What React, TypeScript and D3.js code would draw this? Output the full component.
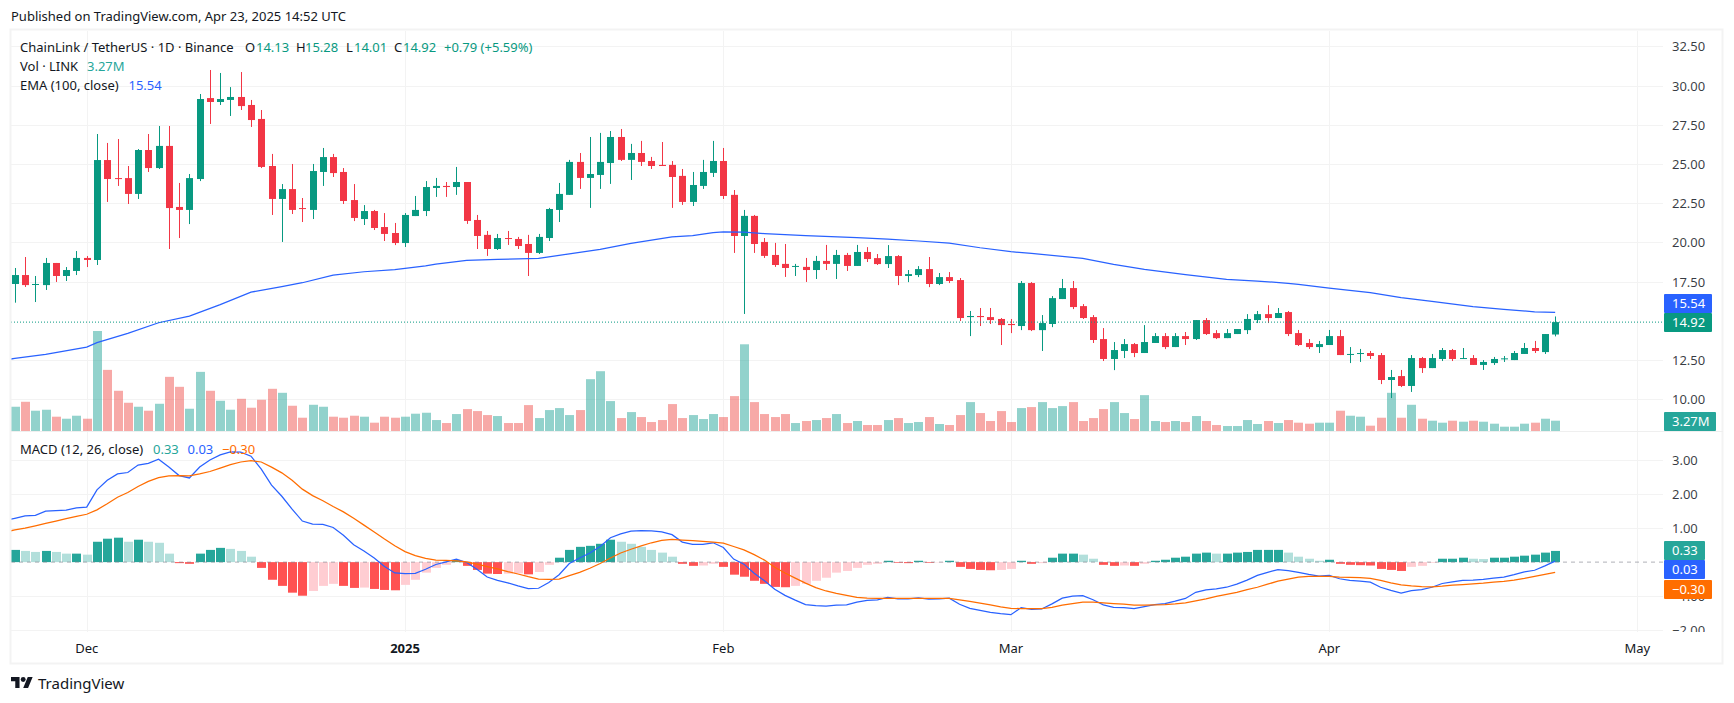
import React from 'react';
import * as d3 from 'd3';

// daily candles from 2024-11-24 to 2025-04-23, grouped by month
const opens = [
  17.35, 17.92, 17.30, 17.28, 18.69, 17.86, 18.18,
  19.01, 18.88, 25.25, 24.10, 24.10, 23.09, 25.89, 24.74, 26.15, 22.26, 22.07, 24.04, 29.20, 28.95, 29.08, 29.27, 28.76, 27.87, 24.87, 22.77, 23.40, 22.19, 22.07, 24.49, 25.44, 24.49, 22.70, 21.49, 22.00, 20.98, 20.60,
  19.96, 21.68, 22.00, 23.47, 23.60, 23.53, 23.85, 21.43, 20.48, 19.58, 20.28, 20.22, 19.90, 19.33, 20.28, 22.07, 23.03, 25.13, 24.11, 24.30, 25.06, 26.72, 25.26, 25.70, 25.19, 24.94, 24.94, 24.24, 22.58, 23.60, 24.43,
  25.19, 23.03, 20.41, 21.69, 20.03, 19.20, 18.63, 18.46, 18.44, 18.24, 18.82, 18.63, 19.20, 18.50, 19.39, 19.00, 18.62, 19.13, 17.86, 17.92, 18.30, 17.35, 17.79, 17.60, 15.24, 15.31, 15.24, 15.12,
  14.80, 14.67, 17.41, 14.41, 14.80, 16.39, 17.09, 15.94, 15.24, 13.84, 12.57, 13.08, 13.52, 12.95, 13.59, 14.03, 13.33, 14.03, 13.84, 15.05, 14.22, 13.90, 14.16, 14.41, 15.05, 15.43, 15.18, 15.56, 14.22, 13.59, 13.33,
  13.46, 14.03, 12.85, 12.91, 12.95, 12.82, 11.23, 11.48, 10.85, 12.63, 11.99, 12.57, 13.14, 12.57, 12.63, 12.19, 12.31, 12.55, 12.50, 12.89, 13.27, 13.01, 14.13,
];
const highs = [
  18.37, 19.07, 17.86, 19.01, 18.69, 18.43, 19.45,
  19.13, 26.91, 26.34, 26.59, 24.87, 25.95, 26.91, 27.42, 27.42, 23.79, 24.36, 29.46, 30.99, 30.80, 29.90, 30.86, 29.08, 28.44, 25.64, 23.72, 25.00, 22.83, 25.00, 26.02, 25.64, 24.74, 23.72, 22.38, 22.07, 21.87, 21.24,
  21.87, 22.96, 23.91, 24.11, 23.85, 24.81, 23.85, 21.75, 20.73, 20.54, 20.73, 20.35, 20.48, 20.54, 22.20, 23.79, 25.26, 25.70, 26.72, 26.98, 27.10, 27.23, 26.28, 26.47, 25.45, 26.40, 25.19, 24.68, 24.49, 25.26, 26.47,
  26.02, 23.34, 22.07, 21.75, 20.28, 19.97, 19.90, 18.63, 19.01, 19.14, 19.84, 19.52, 19.33, 19.84, 19.70, 19.26, 19.83, 19.19, 18.24, 18.49, 19.07, 18.05, 18.11, 17.73, 15.63, 15.82, 15.82, 15.18,
  15.12, 17.54, 17.47, 15.37, 16.58, 17.67, 17.54, 16.07, 15.37, 14.54, 13.65, 13.84, 13.59, 14.73, 14.22, 14.22, 14.22, 14.29, 15.05, 15.18, 14.41, 14.48, 14.48, 15.43, 15.63, 16.00, 15.82, 15.63, 14.42, 13.84, 13.72,
  14.42, 14.42, 13.33, 13.21, 13.08, 12.95, 11.87, 11.87, 12.82, 12.70, 12.89, 13.27, 13.21, 13.27, 12.82, 12.50, 12.70, 12.76, 13.08, 13.59, 13.72, 14.16, 15.28,
];
const lows = [
  16.16, 17.16, 16.20, 16.97, 17.48, 17.54, 17.92,
  18.43, 18.56, 22.58, 23.60, 22.45, 22.77, 24.49, 24.68, 19.58, 20.28, 21.17, 23.91, 27.55, 28.76, 28.06, 28.44, 27.36, 24.74, 21.75, 20.03, 21.81, 21.30, 21.49, 23.60, 24.17, 22.45, 21.36, 21.11, 20.79, 20.09, 19.83,
  19.71, 21.68, 21.68, 22.90, 22.90, 23.03, 21.18, 19.58, 19.14, 19.52, 19.84, 19.58, 17.86, 19.26, 20.09, 21.30, 23.03, 23.41, 22.20, 23.41, 23.73, 25.19, 23.98, 24.87, 24.68, 24.87, 22.20, 22.39, 22.32, 23.41, 24.17,
  22.77, 19.33, 15.44, 19.33, 19.01, 18.44, 17.80, 17.86, 17.48, 17.67, 18.24, 17.67, 18.18, 18.50, 18.75, 18.56, 18.37, 17.28, 17.47, 17.79, 17.15, 17.28, 17.41, 14.99, 14.03, 14.67, 14.80, 13.46,
  14.22, 14.41, 14.35, 13.08, 14.60, 16.39, 15.75, 15.12, 13.59, 12.44, 11.86, 12.63, 12.69, 12.95, 13.59, 13.20, 13.33, 13.46, 13.78, 14.10, 13.84, 13.90, 14.16, 14.16, 14.86, 14.86, 15.18, 14.03, 13.40, 13.21, 12.95,
  13.46, 12.82, 12.31, 12.38, 12.57, 10.97, 10.08, 10.78, 10.47, 11.68, 11.99, 12.44, 12.44, 12.57, 12.19, 11.87, 12.19, 12.38, 12.50, 12.89, 12.95, 12.89, 14.01,
];
const closes = [
  17.92, 17.28, 17.35, 18.69, 17.86, 18.24, 19.01,
  18.88, 25.25, 24.04, 24.04, 23.09, 25.89, 24.74, 26.15, 22.19, 22.07, 24.10, 29.14, 28.95, 29.14, 29.27, 28.69, 27.80, 24.81, 22.77, 23.40, 22.07, 22.13, 24.55, 25.44, 24.42, 22.64, 21.56, 22.00, 20.92, 20.54, 19.96,
  21.75, 22.07, 23.53, 23.60, 23.53, 23.85, 21.37, 20.41, 19.58, 20.28, 20.22, 19.77, 19.33, 20.35, 22.13, 23.09, 25.13, 24.11, 24.36, 25.13, 26.72, 25.26, 25.70, 25.13, 24.87, 24.87, 24.17, 22.58, 23.66, 24.49, 25.19,
  22.96, 20.41, 21.69, 19.90, 19.14, 18.56, 18.37, 18.50, 18.24, 18.82, 18.63, 19.20, 18.50, 19.39, 18.94, 18.62, 19.13, 17.86, 17.98, 18.30, 17.35, 17.79, 17.54, 15.18, 15.31, 15.24, 15.05, 14.73,
  14.73, 17.41, 14.41, 14.86, 16.45, 17.09, 15.88, 15.18, 13.78, 12.57, 13.14, 13.52, 12.95, 13.65, 14.03, 13.33, 14.03, 13.84, 15.05, 14.16, 13.90, 14.22, 14.48, 15.12, 15.43, 15.18, 15.50, 14.16, 13.46, 13.33, 13.52,
  14.03, 12.82, 12.89, 12.95, 12.76, 11.23, 11.42, 10.85, 12.63, 11.99, 12.63, 13.14, 12.57, 12.63, 12.19, 12.38, 12.57, 12.61, 12.95, 13.27, 13.08, 14.16, 14.92,
];
// volume in millions of LINK
const volumes = [
  7.70, 9.28, 6.44, 6.75, 4.54, 3.90, 4.85,
  3.90, 31.76, 19.41, 12.77, 8.97, 7.70, 6.44, 8.65, 17.20, 14.03, 7.07, 18.78, 12.77, 9.60, 6.75, 10.23, 7.39, 9.92, 13.40, 12.13, 8.02, 4.22, 8.33, 7.70, 4.54, 4.22, 4.85, 4.54, 2.64, 4.54, 4.22,
  4.54, 5.49, 5.80, 3.48, 2.53, 5.38, 6.96, 6.33, 5.06, 4.75, 2.53, 2.53, 8.23, 4.11, 6.65, 7.28, 5.06, 6.65, 16.46, 18.99, 9.50, 4.11, 6.01, 4.43, 2.85, 3.48, 8.55, 4.11, 5.06, 3.80, 5.38,
  4.43, 11.08, 27.54, 9.18, 5.38, 4.43, 5.38, 2.53, 3.17, 3.48, 4.11, 5.38, 2.53, 3.17, 1.90, 1.90, 3.48, 4.11, 2.53, 2.85, 4.43, 2.22, 1.90, 5.06, 9.18, 5.70, 3.17, 6.33,
  2.85, 7.28, 7.60, 9.18, 7.28, 7.91, 9.18, 3.17, 4.11, 6.96, 9.18, 5.70, 3.80, 11.39, 3.17, 2.85, 3.17, 2.85, 4.75, 3.17, 1.90, 1.58, 1.58, 3.48, 2.22, 3.17, 2.53, 3.48, 2.64, 2.32, 2.64,
  2.64, 6.44, 4.85, 4.54, 1.69, 4.22, 12.13, 4.22, 8.33, 3.90, 3.27, 2.64, 3.27, 2.95, 3.27, 2.95, 2.32, 1.37, 1.37, 2.32, 2.64, 3.90, 3.27,
];
// macd and signal start one day earlier, the lines run in from the left edge
const macdLine = [
  1.22, 1.29, 1.36, 1.38, 1.50, 1.52, 1.53, 1.60,
  1.62, 2.13, 2.41, 2.60, 2.64, 2.86, 2.91, 3.03, 2.80, 2.55, 2.48, 2.80, 3.01, 3.16, 3.25, 3.24, 3.12, 2.74, 2.27, 1.94, 1.56, 1.21, 1.12, 1.11, 1.02, 0.79, 0.51, 0.33, 0.12, -0.13, -0.32,
  -0.34, -0.33, -0.21, -0.07, 0.01, 0.09, -0.01, -0.21, -0.44, -0.54, -0.61, -0.70, -0.78, -0.77, -0.60, -0.37, -0.04, 0.12, 0.27, 0.46, 0.72, 0.83, 0.91, 0.93, 0.92, 0.89, 0.81, 0.59, 0.52, 0.52, 0.57,
  0.43, 0.09, -0.06, -0.33, -0.55, -0.80, -0.98, -1.12, -1.25, -1.28, -1.30, -1.27, -1.26, -1.18, -1.13, -1.11, -1.04, -1.08, -1.08, -1.05, -1.09, -1.08, -1.06, -1.24, -1.36, -1.42, -1.48, -1.52,
  -1.55, -1.34, -1.39, -1.38, -1.23, -1.06, -1.00, -0.99, -1.11, -1.26, -1.33, -1.34, -1.37, -1.31, -1.25, -1.22, -1.15, -1.07, -0.89, -0.82, -0.79, -0.74, -0.65, -0.53, -0.39, -0.30, -0.22, -0.25, -0.30, -0.36, -0.41,
  -0.39, -0.49, -0.54, -0.56, -0.59, -0.74, -0.83, -0.91, -0.84, -0.81, -0.74, -0.63, -0.58, -0.54, -0.53, -0.51, -0.47, -0.44, -0.37, -0.29, -0.24, -0.11, 0.03,
];
const signalLine = [
  0.88, 0.95, 1.00, 1.07, 1.14, 1.21, 1.28, 1.35,
  1.41, 1.54, 1.72, 1.91, 2.05, 2.23, 2.38, 2.49, 2.54, 2.55, 2.54, 2.60, 2.67, 2.77, 2.87, 2.95, 2.99, 2.95, 2.80, 2.63, 2.41, 2.15, 1.96, 1.81, 1.64, 1.48, 1.29, 1.09, 0.89, 0.68, 0.48,
  0.31, 0.19, 0.11, 0.06, 0.05, 0.04, 0.01, -0.06, -0.13, -0.20, -0.28, -0.35, -0.43, -0.50, -0.51, -0.50, -0.40, -0.30, -0.18, -0.04, 0.12, 0.27, 0.38, 0.48, 0.57, 0.64, 0.67, 0.65, 0.63, 0.61, 0.59,
  0.56, 0.46, 0.36, 0.22, 0.06, -0.15, -0.32, -0.47, -0.62, -0.75, -0.85, -0.92, -0.98, -1.04, -1.06, -1.07, -1.07, -1.07, -1.07, -1.07, -1.07, -1.07, -1.07, -1.11, -1.16, -1.21, -1.26, -1.32,
  -1.36, -1.37, -1.37, -1.37, -1.33, -1.27, -1.22, -1.18, -1.18, -1.20, -1.22, -1.24, -1.27, -1.27, -1.26, -1.25, -1.23, -1.20, -1.14, -1.08, -1.01, -0.95, -0.89, -0.81, -0.74, -0.65, -0.56, -0.50, -0.44, -0.42, -0.42,
  -0.42, -0.44, -0.45, -0.46, -0.48, -0.54, -0.61, -0.67, -0.70, -0.72, -0.73, -0.71, -0.68, -0.66, -0.64, -0.62, -0.59, -0.57, -0.53, -0.48, -0.42, -0.36, -0.30,
];
const histogram = [
  0.36, 0.33, 0.30, 0.33, 0.30, 0.25, 0.25,
  0.22, 0.60, 0.69, 0.72, 0.60, 0.66, 0.60, 0.57, 0.25, -0.03, -0.05, 0.25, 0.36, 0.42, 0.39, 0.33, 0.16, -0.17, -0.52, -0.70, -0.90, -0.99, -0.85, -0.70, -0.64, -0.70, -0.76, -0.75, -0.79, -0.82, -0.83,
  -0.67, -0.52, -0.31, -0.17, -0.08, 0.06, -0.11, -0.23, -0.34, -0.35, -0.34, -0.33, -0.36, -0.29, -0.08, 0.13, 0.36, 0.45, 0.48, 0.54, 0.66, 0.60, 0.54, 0.45, 0.36, 0.28, 0.16, -0.05, -0.11, -0.10, -0.05,
  -0.14, -0.37, -0.43, -0.55, -0.64, -0.73, -0.74, -0.70, -0.64, -0.55, -0.46, -0.31, -0.26, -0.17, -0.08, -0.05, 0.04, -0.02, -0.03, 0.04, -0.02, -0.01, 0.04, -0.14, -0.20, -0.23, -0.24, -0.23,
  -0.20, 0.04, -0.05, -0.03, 0.13, 0.25, 0.25, 0.22, 0.10, -0.08, -0.11, -0.10, -0.11, -0.05, 0.04, 0.07, 0.13, 0.16, 0.25, 0.28, 0.25, 0.25, 0.28, 0.30, 0.36, 0.36, 0.36, 0.28, 0.16, 0.10, 0.04,
  0.07, -0.05, -0.08, -0.09, -0.10, -0.20, -0.23, -0.26, -0.14, -0.11, -0.02, 0.10, 0.10, 0.13, 0.10, 0.09, 0.13, 0.13, 0.16, 0.19, 0.22, 0.28, 0.33,
];
// EMA line, read at its visible bends
const emaDates = [
  '2024-11-23', '2024-11-24', '2024-11-27', '2024-12-01', '2024-12-02', '2024-12-05', '2024-12-08', '2024-12-11', '2024-12-14', '2024-12-17', '2024-12-20', '2024-12-22', '2024-12-25', '2024-12-28', '2024-12-31',
  '2025-01-03', '2025-01-04', '2025-01-07', '2025-01-10', '2025-01-14', '2025-01-16', '2025-01-20', '2025-01-23', '2025-01-27', '2025-01-29', '2025-01-31',
  '2025-02-01', '2025-02-03', '2025-02-05', '2025-02-09', '2025-02-14', '2025-02-17', '2025-02-20', '2025-02-23', '2025-02-26',
  '2025-03-01', '2025-03-03', '2025-03-08', '2025-03-11', '2025-03-14', '2025-03-18', '2025-03-22', '2025-03-25', '2025-03-28', '2025-03-29',
  '2025-04-01', '2025-04-05', '2025-04-08', '2025-04-11', '2025-04-15', '2025-04-18', '2025-04-21', '2025-04-23',
];
const emaValues = [
  12.50, 12.61, 12.87, 13.33, 13.61, 14.20, 14.88, 15.30, 16.03, 16.83, 17.18, 17.43, 17.92, 18.13, 18.26,
  18.50, 18.61, 18.86, 18.92, 18.99, 19.18, 19.56, 19.94, 20.35, 20.43, 20.62,
  20.67, 20.65, 20.56, 20.43, 20.31, 20.21, 20.09, 19.96, 19.66,
  19.41, 19.30, 18.98, 18.60, 18.28, 17.94, 17.64, 17.54, 17.39, 17.33,
  17.09, 16.80, 16.48, 16.24, 15.90, 15.73, 15.58, 15.54,
];

const priceTicks = [32.5, 30, 27.5, 25, 22.5, 20, 17.5, 12.5, 10];
const macdTicks = [3, 2, 1, -1, -2];
const monthTicks = [
  { date: '2024-12-01', label: 'Dec' },
  { date: '2025-01-01', label: '2025', bold: true },
  { date: '2025-02-01', label: 'Feb' },
  { date: '2025-03-01', label: 'Mar' },
  { date: '2025-04-01', label: 'Apr' },
  { date: '2025-05-01', label: 'May' },
];

const FONT = "'Noto Sans', sans-serif";
const UP = '#089981';
const DOWN = '#F23645';
const BLUE = '#2962FF';
const ORANGE = '#FF6D00';
const TEAL = '#26A69A';
const GRID = '#F3F3F3';
const TEXT = '#131722';

const W = 1734;
const H = 703;
const paneLeft = 11;
const paneRight = 1663;
const paneTop = 31;
const paneMid = 431;
const paneBottom = 632;

const days = d3.utcDay.range(new Date(Date.UTC(2024, 10, 24)), new Date(Date.UTC(2025, 3, 24)));
const lineDays = d3.utcDay.range(new Date(Date.UTC(2024, 10, 23)), new Date(Date.UTC(2025, 3, 24)));
const day = (s: string) => new Date(s + 'T00:00:00Z');

const xScale = d3.scaleUtc().domain([day('2024-12-01'), day('2025-05-01')]).range([86.7, 1637.3]);
const yPrice = d3.scaleLinear().domain([10, 32.5]).range([399.3, 46.3]);
const yVolume = d3.scaleLinear().domain([0, 31.76]).range([431, 331]);
const yMacd = d3.scaleLinear().domain([-2, 3]).range([630, 460.3]);

const emaPath = d3.line<number>()
  .x((_, i) => xScale(day(emaDates[i])))
  .y((d) => yPrice(d))(emaValues) as string;
const macdPath = d3.line<number>()
  .x((_, i) => xScale(lineDays[i]))
  .y((d) => yMacd(d))(macdLine) as string;
const signalPath = d3.line<number>()
  .x((_, i) => xScale(lineDays[i]))
  .y((d) => yMacd(d))(signalLine) as string;

const histColor = (i: number) => {
  const v = histogram[i];
  const prev = i > 0 ? histogram[i - 1] : v;
  if (v >= 0) return v >= prev ? TEAL : '#B2DFDB';
  return v < prev || i === 0 ? '#FF5252' : '#FFCDD2';
};

const Badge = ({ y, x2, color, label }: { y: number; x2: number; color: string; label: string }) => (
  <g>
    <rect x={1664} y={y} width={x2 - 1664} height={19} fill={color} rx={1} />
    <text x={1672} y={y + 14} fill="#fff" fontSize={13}>{label}</text>
  </g>
);

export default function App() {
  return (
    <svg width={W} height={H} fontFamily={FONT} style={{ position: 'absolute', left: 0, top: 0, background: '#fff' }}>
      <defs>
        <clipPath id="mainClip">
          <rect x={paneLeft} y={paneTop} width={paneRight - paneLeft} height={paneMid - paneTop} />
        </clipPath>
        <clipPath id="macdClip">
          <rect x={paneLeft} y={paneMid} width={paneRight - paneLeft} height={paneBottom - paneMid} />
        </clipPath>
        <clipPath id="axisClip">
          <rect x={paneRight} y={paneMid} width={60} height={paneBottom - paneMid} />
        </clipPath>
      </defs>

      <text x={11} y={21} fontSize={13} fill={TEXT}>Published on TradingView.com, Apr 23, 2025 14:52 UTC</text>

      {/* grid */}
      <g stroke={GRID} strokeWidth={1}>
        {priceTicks.map((t) => (
          <line key={t} x1={paneLeft} x2={paneRight} y1={Math.round(yPrice(t)) + 0.5} y2={Math.round(yPrice(t)) + 0.5} />
        ))}
        {macdTicks.map((t) => (
          <line key={t} x1={paneLeft} x2={paneRight} y1={Math.round(yMacd(t)) + 0.5} y2={Math.round(yMacd(t)) + 0.5} />
        ))}
        {monthTicks.map((t) => {
          const x = Math.round(xScale(day(t.date))) + 0.5;
          return <line key={t.date} x1={x} x2={x} y1={paneTop} y2={paneBottom} />;
        })}
      </g>

      {/* price pane */}
      <g clipPath="url(#mainClip)">
        {volumes.map((v, i) => (
          <rect
            key={i}
            x={Math.round(xScale(days[i])) - 4}
            y={yVolume(v)}
            width={9}
            height={yVolume(0) - yVolume(v)}
            fill={closes[i] >= opens[i] ? '#26A69A' : '#EF5350'}
            fillOpacity={0.5}
          />
        ))}
        {closes.map((c, i) => {
          const cx = Math.round(xScale(days[i]));
          const color = c >= opens[i] ? UP : DOWN;
          const top = yPrice(Math.max(c, opens[i]));
          const bottom = yPrice(Math.min(c, opens[i]));
          return (
            <g key={i} fill={color}>
              <rect x={cx} y={yPrice(highs[i])} width={1} height={yPrice(lows[i]) - yPrice(highs[i])} />
              <rect x={cx - 3} y={top} width={7} height={Math.max(bottom - top, 1)} />
            </g>
          );
        })}
        <path d={emaPath} fill="none" stroke={BLUE} strokeWidth={1.25} />
        <line x1={paneLeft} x2={paneRight} y1={yPrice(14.92)} y2={yPrice(14.92)} stroke={UP} strokeDasharray="1 2" />
      </g>

      {/* macd pane */}
      <g clipPath="url(#macdClip)">
        {histogram.map((v, i) => (
          <rect
            key={i}
            x={Math.round(xScale(days[i])) - 4}
            y={Math.min(yMacd(v), yMacd(0))}
            width={9}
            height={Math.abs(yMacd(v) - yMacd(0))}
            fill={histColor(i)}
          />
        ))}
        <line x1={paneLeft} x2={paneRight} y1={yMacd(0)} y2={yMacd(0)} stroke="#787B86" strokeOpacity={0.6} strokeDasharray="4 4" />
        <path d={macdPath} fill="none" stroke={BLUE} strokeWidth={1.25} />
        <path d={signalPath} fill="none" stroke={ORANGE} strokeWidth={1.25} />
      </g>

      {/* frame and pane separator */}
      <rect x={10.5} y={29.5} width={1712} height={634} fill="none" stroke={GRID} strokeWidth={2} />
      <line x1={paneLeft} x2={1723} y1={paneMid + 0.5} y2={paneMid + 0.5} stroke="#EFEFEF" />

      {/* price axis */}
      <g fontSize={13} fill={TEXT} fillOpacity={0.85}>
        {priceTicks.map((t) => (
          <text key={t} x={1672} y={yPrice(t) + 5}>{d3.format('.2f')(t)}</text>
        ))}
      </g>
      <g fontSize={13} fill={TEXT} fillOpacity={0.85} clipPath="url(#axisClip)">
        {macdTicks.map((t) => (
          <text key={t} x={1672} y={yMacd(t) + 5}>{d3.format('.2f')(t).replace('-', '\u2212')}</text>
        ))}
      </g>

      {/* time axis */}
      <g fontSize={13} fill={TEXT} textAnchor="middle">
        {monthTicks.map((t) => (
          <text key={t.date} x={xScale(day(t.date))} y={653} fontWeight={t.bold ? 700 : 400}>{t.label}</text>
        ))}
      </g>

      {/* last value badges */}
      <Badge y={294} x2={1712} color={BLUE} label="15.54" />
      <Badge y={313} x2={1712} color={UP} label="14.92" />
      <Badge y={412} x2={1716} color={TEAL} label="3.27M" />
      <Badge y={541} x2={1705} color={TEAL} label="0.33" />
      <Badge y={560} x2={1705} color={BLUE} label="0.03" />
      <Badge y={580} x2={1712} color={ORANGE} label={'\u22120.30'} />

      {/* legends */}
      <g fontSize={13} fill={TEXT}>
        <text x={20} y={52}>ChainLink / TetherUS · 1D · Binance</text>
        <text x={245} y={52}>O</text>
        <text x={256} y={52} fill={UP}>14.13</text>
        <text x={296} y={52}>H</text>
        <text x={305} y={52} fill={UP}>15.28</text>
        <text x={346} y={52}>L</text>
        <text x={354} y={52} fill={UP}>14.01</text>
        <text x={394} y={52}>C</text>
        <text x={403} y={52} fill={UP}>14.92</text>
        <text x={444} y={52} fill={UP}>+0.79 (+5.59%)</text>
        <text x={20} y={71}>Vol · LINK</text>
        <text x={87} y={71} fill={TEAL}>3.27M</text>
        <text x={20} y={90}>EMA (100, close)</text>
        <text x={128.5} y={90} fill={BLUE}>15.54</text>
        <text x={20} y={454}>MACD (12, 26, close)</text>
        <text x={153} y={454} fill={TEAL}>0.33</text>
        <text x={187.5} y={454} fill={BLUE}>0.03</text>
        <text x={222} y={454} fill={ORANGE}>{'\u22120.30'}</text>
      </g>

      {/* footer logo */}
      <g transform="translate(11,674.6) scale(0.61)" fill={TEXT}>
        <path d="M14 22H7V11H0V4h14v18zM28 22h-8l7.5-18h8L28 22z" />
        <circle cx={20} cy={8} r={4} />
      </g>
      <text x={38} y={689} fontSize={15} fill={TEXT}>TradingView</text>
    </svg>
  );
}
